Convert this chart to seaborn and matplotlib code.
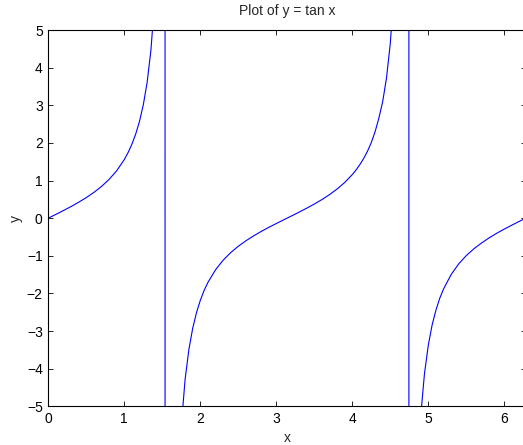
import seaborn as sns
import matplotlib
matplotlib.use("Agg")
import matplotlib.pyplot as plt
import pandas as pd

# points (values outside [-5, 5] are clipped off)
x_vals = [0, 0.1, 0.2, 0.3, 0.4, 0.5, 0.6, 0.7, 0.8, 0.9, 1.0, 1.05, 1.1, 1.15,
          1.2, 1.25, 1.3, 1.35, 1.4, 1.45, 1.5, 1.536,
          1.537, 1.6, 1.65, 1.7, 1.75, 1.8, 1.85, 1.9, 1.95, 2.0, 2.05, 2.1, 2.2,
          2.3, 2.4, 2.5, 2.6, 2.7, 2.8, 2.9, 3.0, 3.1, 3.2, 3.3, 3.4, 3.5, 3.6,
          3.7, 3.8, 3.9, 4.0, 4.05, 4.1, 4.15, 4.2, 4.25, 4.3, 4.35, 4.4, 4.45,
          4.5, 4.55, 4.6, 4.65, 4.7, 4.744,
          4.746, 4.8, 4.85, 4.9, 4.95, 5.0, 5.05, 5.1, 5.15, 5.2, 5.3, 5.4, 5.5,
          5.6, 5.7, 5.8, 5.9, 6.0, 6.1, 6.2, 6.28]
y_vals = [0, 0.100, 0.203, 0.309, 0.423, 0.546, 0.684, 0.842, 1.030, 1.260,
          1.557, 1.743, 1.965, 2.234, 2.572, 3.010, 3.602, 4.455, 5.798, 8.238,
          14.10, 40.0,
          -40.0, -34.23, -12.60, -7.697, -5.520, -4.286, -3.488, -2.927, -2.511,
          -2.185, -1.923, -1.710, -1.374, -1.119, -0.916, -0.747, -0.602, -0.473,
          -0.355, -0.246, -0.143, -0.042, 0.058, 0.160, 0.264, 0.375, 0.493,
          0.625, 0.774, 0.947, 1.158, 1.282, 1.424, 1.586, 1.778, 2.008, 2.296,
          2.660, 3.096, 3.723, 4.637, 6.10, 8.86, 16.0, 80.6, 60.0,
          -60.0, -11.39, -7.22, -5.27, -4.129, -3.381, -2.843, -2.449, -2.134,
          -1.886, -1.501, -1.216, -0.995, -0.814, -0.662, -0.525, -0.402,
          -0.291, -0.185, -0.083, -0.003]

df = pd.DataFrame({"x": x_vals, "y": y_vals})

sns.set_style("ticks")
plt.rcParams["font.family"] = ["Liberation Sans", "DejaVu Sans"]
plt.rcParams["font.size"] = 10

fig = plt.figure(figsize=(5.23, 4.45), dpi=100)
ax = fig.add_axes([48.3 / 523, 38.7 / 445, 477.5 / 523, 376.3 / 445])

sns.lineplot(data=df, x="x", y="y", estimator=None, sort=False,
             color="#0000ff", linewidth=0.8, ax=ax)

ax.set_xlim(0, 6.2832)
ax.set_ylim(-5, 5)
ax.set_xticks(range(0, 7))
ax.set_yticks(range(-5, 6))
ax.tick_params(direction="in", length=3.5, width=0.6, top=True, right=True,
               colors="black", labelsize=10, pad=4)
for s in ax.spines.values():
    s.set_visible(True)
    s.set_linewidth(0.8)
    s.set_color("black")

ax.set_title("Plot of y = tan x", fontsize=10, pad=11)
ax.set_xlabel("x", fontsize=10, labelpad=4)
ax.set_ylabel("y", fontsize=10, labelpad=3)

fig.savefig("out.png", dpi=100)
